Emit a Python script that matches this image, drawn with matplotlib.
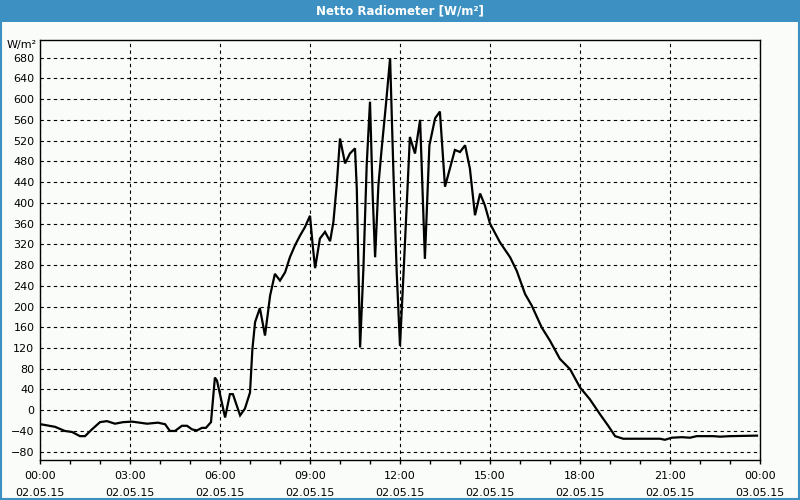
import matplotlib
matplotlib.use('Agg')
import matplotlib.pyplot as plt
from matplotlib.patches import Rectangle
from matplotlib.ticker import MultipleLocator

# Netto Radiometer, 02.05.15 (hours since midnight -> W/m²)
hours = [0.02, 0.50, 0.83, 1.07, 1.33, 1.50, 1.73, 2.00, 2.23, 2.50,
         2.77, 3.07, 3.57, 3.93, 4.17, 4.33, 4.50, 4.73, 4.90, 5.07,
         5.23, 5.40, 5.53, 5.70, 5.83, 5.90, 6.17, 6.33, 6.43, 6.67,
         6.83, 7.00, 7.08, 7.17, 7.33, 7.50, 7.67, 7.83, 8.00, 8.17,
         8.33, 8.50, 8.67, 8.83, 9.00, 9.09, 9.17, 9.33, 9.50, 9.67,
         9.78, 9.89, 10.00, 10.17, 10.33, 10.50, 10.56, 10.67, 10.78, 10.89,
         11.00, 11.09, 11.17, 11.28, 11.39, 11.53, 11.67, 11.78, 11.89, 12.00,
         12.13, 12.33, 12.50, 12.67, 12.83, 12.98, 13.17, 13.33, 13.50, 13.83,
         14.00, 14.17, 14.33, 14.50, 14.67, 14.83, 15.00, 15.33, 15.67, 15.89,
         16.17, 16.39, 16.72, 17.00, 17.33, 17.67, 18.00, 18.33, 18.67, 18.94,
         19.17, 19.44, 20.00, 20.67, 20.83, 21.06, 21.39, 21.67, 21.89, 22.44,
         22.67, 23.00, 23.90]
values = [-27, -32, -40, -42, -50, -50, -37, -23, -21, -26,
          -23, -22, -26, -24, -27, -40, -40, -30, -30, -37,
          -39, -34, -34, -23, 63, 57, -14, 31, 31, -10,
          3, 34, 118, 170, 197, 144, 221, 263, 250, 266,
          295, 318, 337, 353, 375, 318, 274, 331, 344, 326,
          363, 434, 524, 476, 495, 505, 427, 121, 273, 473,
          595, 414, 295, 434, 505, 589, 679, 460, 266, 124,
          279, 527, 495, 560, 292, 511, 563, 576, 431, 502,
          498, 511, 466, 376, 418, 395, 360, 324, 295, 269,
          224, 202, 160, 134, 99, 79, 44, 21, -8, -30,
          -50, -55, -55, -55, -57, -53, -52, -53, -50, -50,
          -51, -50, -49]

tick_hours = [0, 3, 6, 9, 12, 15, 18, 21, 24]
tick_labels = ['00:00\n02.05.15', '03:00\n02.05.15', '06:00\n02.05.15',
               '09:00\n02.05.15', '12:00\n02.05.15', '15:00\n02.05.15',
               '18:00\n02.05.15', '21:00\n02.05.15', '00:00\n03.05.15']

blue = '#3d91c2'
bg = '#fafcfa'

fig = plt.figure(figsize=(8, 5), dpi=100, facecolor=bg)

# title bar and frame
fig.patches.append(Rectangle((0, 0.956), 1, 0.044, transform=fig.transFigure,
                             facecolor=blue, edgecolor='none', zorder=0))
fig.patches.append(Rectangle((0.001, 0.002), 0.998, 0.996, transform=fig.transFigure,
                             facecolor='none', edgecolor=blue, lw=1.5, zorder=5))
fig.text(0.5, 0.979, 'Netto Radiometer [W/m²]', color='white', fontsize=8.5,
         fontweight='bold', ha='center', va='center')

ax = fig.add_axes([0.05, 0.08, 0.90, 0.84])
ax.set_facecolor(bg)
ax.plot(hours, values, color='black', lw=1.6, solid_joinstyle='miter')

ax.set_xlim(0, 24)
ax.set_xticks(tick_hours)
ax.set_xticklabels(tick_labels, fontsize=8, linespacing=1.8)
ax.xaxis.set_minor_locator(MultipleLocator(1))
ax.yaxis.set_major_locator(MultipleLocator(40))
ax.tick_params(axis='x', which='both', direction='out', length=3, width=1, pad=5)
ax.tick_params(axis='y', length=0, pad=4, labelsize=8)
ax.set_ylim(-96, 714)

ax.grid(True, which='major', color='black', linestyle=(0, (3, 3)), lw=0.8)
for s in ax.spines.values():
    s.set_linewidth(1)
    s.set_color('black')

ax.text(-0.005, 0.988, 'W/m²', transform=ax.transAxes, ha='right', va='center',
        fontsize=8)

fig.savefig('out.png', dpi=100, facecolor=bg)
